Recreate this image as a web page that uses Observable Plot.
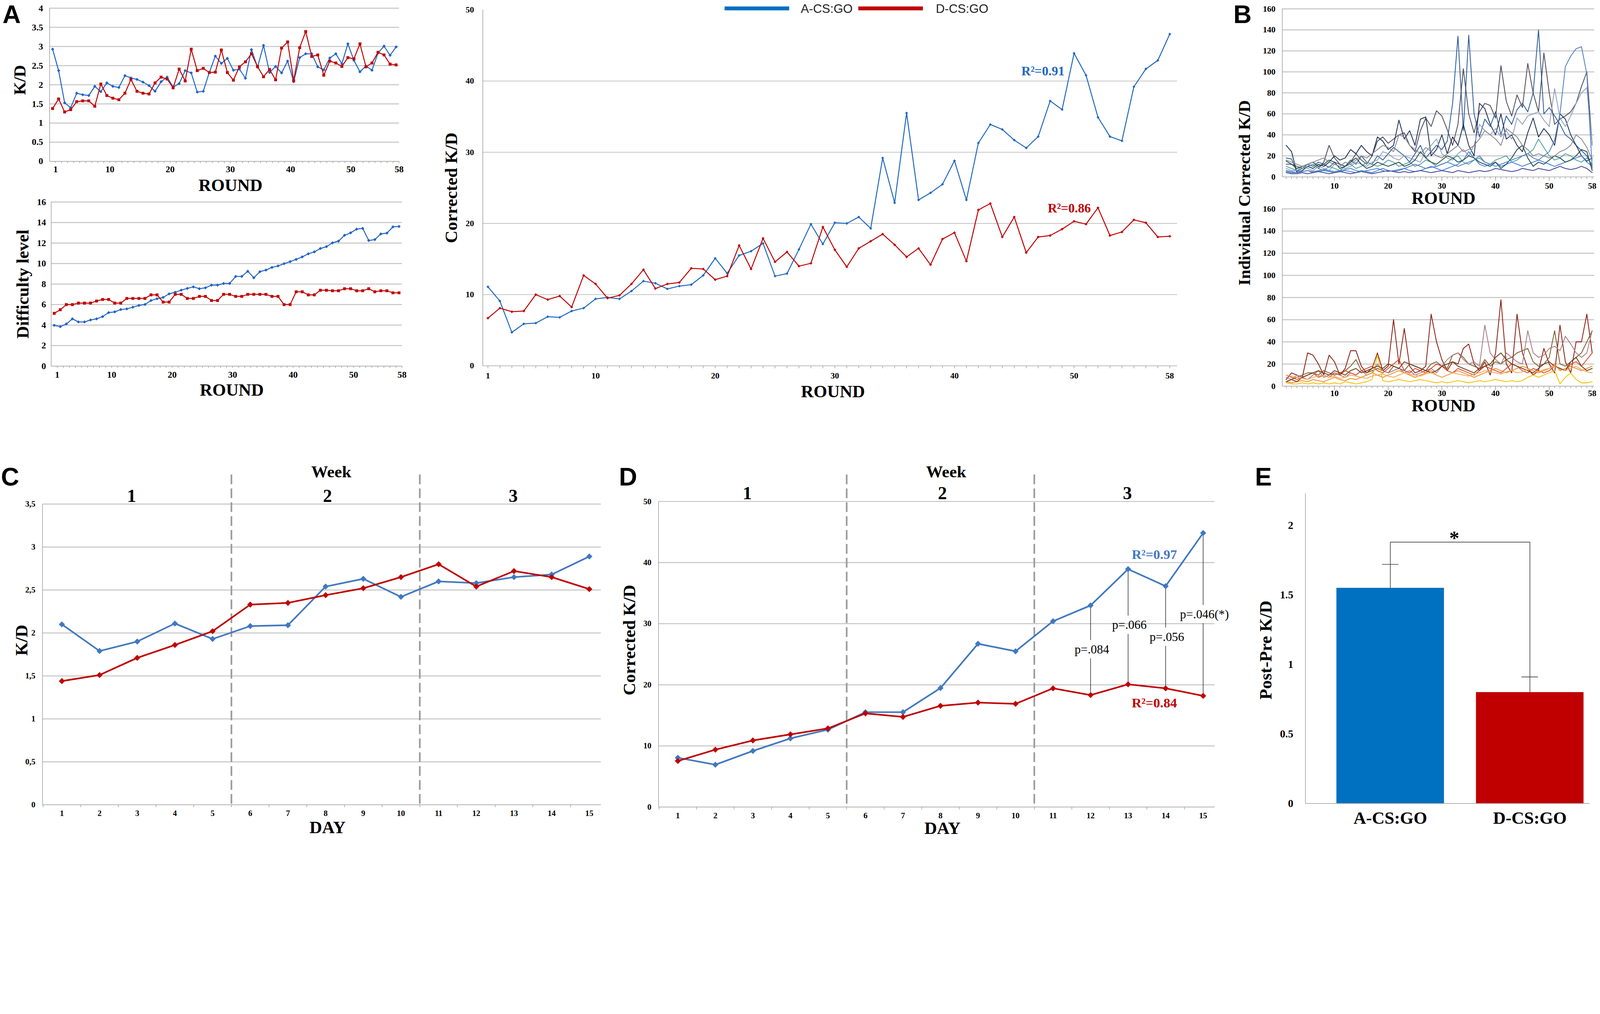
<!DOCTYPE html>
<html><head><meta charset="utf-8">
<script src="https://cdn.jsdelivr.net/npm/d3@7"></script>
<script src="https://cdn.jsdelivr.net/npm/@observablehq/plot@0.6"></script>
<style>
html,body{margin:0;padding:0;background:#fff;overflow:hidden;}
#fig{position:relative;width:4953px;height:2596px;overflow:hidden;background:#fff;transform-origin:0 0;}
.letter{position:absolute;font-family:"Liberation Sans",Arial,sans-serif;font-weight:bold;font-size:78px;line-height:0.75;color:#000;}
.lab{position:absolute;white-space:nowrap;line-height:1;}
</style></head><body><div id="fig"></div>
<script>
// ---------------- DATA ----------------
const rounds = d3.range(1, 59);
const roundTicks = [1, 10, 20, 30, 40, 50, 58];
const roundTicksB = [10, 20, 30, 40, 50, 58];
const groupNames = ["A-CS:GO", "D-CS:GO"];

// Panel A (top left): K/D per round
const kdAcs = [2.93,2.37,1.53,1.40,1.78,1.74,1.72,1.96,1.82,2.05,1.96,1.93,2.24,2.18,2.14,2.07,1.98,1.83,2.08,2.20,1.94,2.03,2.37,2.31,1.81,1.83,2.32,2.75,2.56,2.69,2.38,2.41,2.17,2.92,2.46,3.03,2.32,2.48,2.31,2.62,2.08,2.71,2.81,2.81,2.47,2.39,2.70,2.81,2.55,3.07,2.64,2.34,2.49,2.38,2.83,3.01,2.77,2.99];
const kdDcs = [1.38,1.63,1.29,1.35,1.56,1.58,1.58,1.44,2.02,1.72,1.65,1.61,1.78,2.14,1.83,1.78,1.76,2.05,2.20,2.15,1.92,2.41,2.10,2.93,2.37,2.43,2.32,2.33,2.91,2.32,2.12,2.47,2.60,2.81,2.48,2.21,2.40,2.13,2.96,3.12,2.11,2.97,3.39,2.74,2.78,2.25,2.62,2.57,2.48,2.71,2.68,3.07,2.47,2.57,2.85,2.78,2.54,2.52];
const kdTicks = [0,0.5,1,1.5,2,2.5,3,3.5,4];

// Panel A (bottom left): difficulty level per round
const diffAcs = [3.98,3.85,4.11,4.61,4.31,4.31,4.50,4.61,4.83,5.22,5.29,5.52,5.58,5.75,5.92,6.01,6.40,6.57,6.70,7.05,7.21,7.41,7.58,7.73,7.55,7.64,7.90,7.90,8.06,8.06,8.75,8.75,9.25,8.62,9.21,9.37,9.63,9.77,9.99,10.19,10.41,10.65,10.95,11.14,11.47,11.65,12.02,12.19,12.76,13.00,13.36,13.43,12.25,12.34,12.89,12.97,13.58,13.62];
const diffDcs = [5.15,5.5,6.0,6.0,6.15,6.15,6.15,6.35,6.5,6.5,6.15,6.15,6.6,6.6,6.6,6.6,6.95,6.95,6.25,6.25,7.0,7.0,6.6,6.6,6.8,6.8,6.4,6.4,7.0,7.0,6.8,6.8,7.0,7.0,7.0,7.0,6.8,6.8,6.0,6.0,7.25,7.25,6.95,6.95,7.4,7.4,7.35,7.35,7.55,7.55,7.35,7.35,7.55,7.25,7.35,7.35,7.15,7.15];
const diffTicks = [0,2,4,6,8,10,12,14,16];

// Panel A (centre): corrected K/D per round
const corrAcs = [11.1,9.1,4.7,5.9,6.0,6.9,6.8,7.7,8.1,9.4,9.6,9.4,10.5,11.9,11.6,10.8,11.2,11.4,12.7,15.1,13.0,15.5,16.1,17.2,12.6,12.95,16.35,19.9,17.1,20.1,20.0,20.9,19.3,29.2,22.9,35.5,23.3,24.3,25.5,28.8,23.3,31.3,33.9,33.2,31.7,30.6,32.2,37.2,36.0,43.9,40.8,34.9,32.2,31.6,39.2,41.7,42.9,46.6];
const corrDcs = [6.7,8.1,7.6,7.7,10.0,9.3,9.8,8.25,12.7,11.5,9.5,9.9,11.5,13.5,10.85,11.5,11.7,13.7,13.6,12.1,12.6,16.9,13.6,17.9,14.6,16.0,14.0,14.4,19.5,16.3,13.9,16.5,17.5,18.5,17.0,15.3,16.5,14.2,17.8,18.7,14.7,21.9,22.8,18.1,20.9,15.9,18.1,18.3,19.2,20.3,19.9,22.2,18.3,18.8,20.5,20.1,18.1,18.2];
const corrTicks = [0,10,20,30,40,50];
const corrR2 = [{r: 47.4, v: 41.4, label: "R²=0.91", g: 0}, {r: 49.6, v: 22.1, label: "R²=0.86", g: 1}];

// Panel B: individual corrected K/D (A-CS:GO players, top; D-CS:GO players, bottom)
const indivA = [
 [18,17,5,8,12,10,14,12,9,14,12,10,16,12,20,14,12,20,16,22,28,24,20,14,22,30,18,24,30,26,34,70,134,44,135,60,38,55,48,62,40,58,50,64,70,62,80,140,60,66,58,50,40,36,30,25,20,10],
 [12,12,10,8,10,12,8,14,30,18,12,10,14,22,16,12,20,34,38,32,36,40,42,30,24,44,56,48,63,58,45,30,50,103,60,42,62,70,68,56,106,72,58,78,66,108,80,62,118,80,50,55,58,62,70,86,100,30],
 [30,24,4,6,10,8,12,10,14,20,16,18,26,22,30,24,20,38,34,26,30,54,36,44,30,55,57,20,26,40,22,38,30,50,30,20,70,65,50,40,60,36,40,30,24,42,56,38,46,40,30,60,55,40,30,20,15,18],
 [8,6,6,10,8,6,10,8,6,12,10,8,10,14,12,10,14,16,24,22,18,16,20,18,16,14,24,30,36,22,18,16,22,26,20,30,50,44,40,46,38,44,36,56,50,58,60,62,54,48,84,56,48,58,70,80,85,30],
 [10,8,6,8,10,12,8,6,10,8,6,10,12,8,10,14,12,10,12,16,14,10,12,14,10,12,16,14,10,12,14,18,20,14,12,16,18,14,12,16,18,20,14,16,20,22,26,36,28,20,16,18,22,20,16,14,18,12],
 [5,4,4,5,6,4,5,6,5,4,5,6,5,4,6,5,4,6,8,6,5,6,8,6,5,6,8,10,8,6,8,10,12,16,24,18,12,10,12,14,10,12,14,12,10,12,14,16,14,12,10,12,14,16,18,20,14,10],
 [15,12,8,10,12,14,10,12,16,14,8,10,14,18,12,8,10,14,12,10,12,14,10,12,16,24,18,14,12,16,20,18,14,16,20,18,14,12,10,14,8,12,18,26,30,18,10,14,12,16,20,18,14,16,20,26,24,6],
 [4,3,3,4,3,4,5,4,3,4,5,4,3,4,5,4,3,4,5,6,5,4,5,4,5,6,5,4,5,6,5,4,6,5,4,5,6,5,6,8,7,6,5,6,8,7,6,8,7,6,8,10,8,7,8,10,8,4],
 [16,14,12,10,12,14,16,18,14,12,10,14,12,16,20,18,22,26,30,28,24,40,38,30,26,22,28,24,20,18,22,26,30,24,26,30,36,44,40,36,30,46,42,38,30,26,20,22,20,18,20,24,26,30,40,36,28,16],
 [6,5,4,5,6,5,6,7,6,5,6,7,8,6,5,6,7,8,6,5,6,7,8,10,12,10,8,9,10,12,14,12,10,12,14,16,20,14,12,10,12,14,16,18,20,22,18,16,20,24,35,60,105,115,122,124,98,8]
];
const indivAColors = ["#2a5b9c","#4a4a58","#1c2d52","#8e9dbb","#4f9d9d","#3b7ddd","#1f4a46","#3a3f94","#85858f","#4d7fbf"];
const indivD = [
 [6,12,10,8,30,28,20,10,28,22,10,16,32,32,18,12,16,30,14,18,60,20,52,18,12,14,18,65,40,24,14,22,20,34,38,20,14,22,10,30,78,20,12,65,30,16,10,14,34,20,12,55,22,12,40,40,65,30],
 [4,6,8,10,12,12,10,14,12,10,12,14,18,24,14,12,14,16,14,12,18,16,14,20,18,16,14,20,22,18,16,28,30,26,20,18,16,24,18,22,20,24,26,30,32,34,22,18,20,26,50,20,18,22,26,30,40,50],
 [8,6,10,8,6,10,14,8,10,12,10,8,12,10,14,10,12,20,14,12,14,16,12,14,10,12,14,16,12,18,24,28,30,24,20,22,18,55,30,24,20,30,26,22,20,50,30,26,28,34,36,32,45,38,30,26,30,50],
 [10,8,6,8,10,12,8,10,8,12,10,14,12,10,14,16,18,14,12,16,20,24,14,12,16,14,12,16,20,18,14,12,16,14,12,10,14,18,16,14,12,16,20,18,14,12,16,14,12,14,18,16,14,20,22,18,24,30],
 [4,3,4,5,4,6,5,4,6,8,6,5,7,6,8,10,12,10,8,10,12,14,12,10,8,10,12,14,10,8,10,12,14,12,10,8,10,12,14,16,14,12,14,16,18,16,14,12,14,16,20,14,16,18,16,14,16,18],
 [3,2,2,3,2,3,2,3,2,3,2,4,3,2,3,4,6,28,5,4,5,6,5,4,5,6,5,4,3,4,3,4,5,4,3,4,5,4,5,6,5,4,5,4,5,8,10,8,10,12,14,2,8,12,6,3,3,4],
 [4,6,4,8,10,12,14,12,10,14,12,10,14,16,12,14,16,18,16,20,18,16,22,20,18,16,14,12,14,18,20,22,18,16,14,12,16,18,20,26,30,24,20,18,16,14,12,16,20,22,18,16,14,22,26,18,14,16],
 [10,9,8,7,6,8,9,10,8,9,7,8,10,9,8,7,9,10,11,9,8,10,12,11,10,9,11,12,10,8,10,12,11,10,9,11,12,14,13,12,11,13,14,12,13,15,14,13,15,16,18,15,14,16,18,15,13,12]
];
const indivDColors = ["#8b1a0e","#7a5a25","#a57a80","#e0442a","#ee8a2a","#f5c000","#6e3a12","#f2a65a"];
const indivTicks = [0,20,40,60,80,100,120,140,160];

// Panels C & D: daily means
const days = d3.range(1, 16);
const dayKdAcs = [2.10,1.79,1.90,2.11,1.93,2.08,2.09,2.54,2.63,2.42,2.60,2.58,2.65,2.68,2.89];
const dayKdDcs = [1.44,1.51,1.71,1.86,2.02,2.33,2.35,2.44,2.52,2.65,2.80,2.54,2.72,2.65,2.51];
const dayKdTicks = [0,0.5,1,1.5,2,2.5,3,3.5];
const dayCorrAcs = [8.07,6.93,9.18,11.23,12.66,15.53,15.53,19.47,26.72,25.49,30.41,32.99,38.93,36.15,44.84];
const dayCorrDcs = [7.54,9.39,10.9,11.89,12.87,15.33,14.75,16.56,17.09,16.89,19.43,18.32,20.08,19.43,18.2];
const dayCorrTicks = [0,10,20,30,40,50];
const weekBreaks = [5.5, 10.5];
const weekLabels = [{d: 2.85, label: "1"}, {d: 8.05, label: "2"}, {d: 12.98, label: "3"}];
const weekTitle = [{d: 8.15, label: "Week"}];
const pLabels = [{d: 12, y: 25.8, label: "p=.084"}, {d: 13, y: 29.8, label: "p=.066"}, {d: 14, y: 27.85, label: "p=.056"}, {d: 15, y: 31.55, label: "p=.046(*)"}];
const dayR2 = [{d: 13.7, v: 41.3, label: "R²=0.97", g: 0}, {d: 13.7, v: 17.0, label: "R²=0.84", g: 1}];

// Panel E: post - pre K/D
const postPre = [1.55, 0.80];
const postPreErr = [0.17, 0.11];
const postPreTicks = [0, 0.5, 1, 1.5, 2];
const sigBracket = {y: 1.88, from: "A-CS:GO", to: "D-CS:GO", label: "*"};

// ---------------- STYLE ----------------
const BLUE_A = "#1f63c6", BLUE_M = "#2068c0", BLUE_C = "#4178c0", RED = "#c00000";
const BAR_COLORS = ["#0070c0", "#c00000"];
const GRID = "#c4c4c4", AX = "#a6a6a6";
const SERIF = "'Liberation Serif','Times New Roman',serif";
const fig = document.getElementById("fig");
const plain = d => String(d);
function baseStyle(size) {
  return {fontFamily: SERIF, fontWeight: "bold", fontSize: size + "px", color: "#000", background: "transparent", overflow: "visible"};
}
function place(el, left, top) {
  el.style.position = "absolute"; el.style.left = left + "px"; el.style.top = top + "px";
  el.style.maxWidth = "none";
  fig.appendChild(el);
}
const roundTable = vals => vals.map((v, i) => ({r: rounds[i], v}));
const dayTable = vals => vals.map((v, i) => ({d: days[i], v}));
const label = (txt, opts) => Plot.text([txt], {text: d => d, textAnchor: "middle", lineAnchor: "middle", ...opts});

// ---------------- A1: K/D ----------------
{
  const fw = 1082, fh = 474, mL = 153, mT = 25, mR = 30, mB = 111;
  const p = Plot.plot({
    width: mL + fw + mR, height: mT + fh + mB, marginLeft: mL, marginTop: mT, marginRight: mR, marginBottom: mB,
    style: baseStyle(27), x: {domain: [0, 58]}, y: {domain: [0, 4]},
    marks: [
      Plot.ruleY(kdTicks.filter(t => t > 0), {stroke: GRID, strokeWidth: 3}),
      Plot.ruleX([0], {stroke: AX, strokeWidth: 2}),
      Plot.ruleY([0], {stroke: AX, strokeWidth: 2}),
      Plot.axisX({ticks: rounds, tickSize: 6, tickFormat: () => "", stroke: AX, strokeWidth: 2, label: null}),
      Plot.axisX({ticks: roundTicks, tickSize: 0, tickPadding: 14, fontSize: 28, tickFormat: plain, label: null}),
      Plot.axisY({ticks: kdTicks, tickSize: 0, tickPadding: 20, fontSize: 28, tickFormat: plain, label: null}),
      Plot.line(roundTable(kdAcs), {x: d => d.r - 0.5, y: "v", stroke: BLUE_A, strokeWidth: 3}),
      Plot.dot(roundTable(kdAcs), {x: d => d.r - 0.5, y: "v", symbol: "diamond2", r: 4.5, fill: BLUE_A}),
      Plot.line(roundTable(kdDcs), {x: d => d.r - 0.5, y: "v", stroke: RED, strokeWidth: 3}),
      Plot.dot(roundTable(kdDcs), {x: d => d.r - 0.5, y: "v", symbol: "square", r: 5, fill: RED}),
      label("K/D", {frameAnchor: "left", dx: -91, dy: -15, rotate: -90, fontSize: 52}),
      label("ROUND", {frameAnchor: "bottom", dx: 19, dy: 74, fontSize: 54})
    ]
  });
  place(p, 0, 0);
}

// ---------------- A2: Difficulty ----------------
{
  const fw = 1086, fh = 508, mL = 158, mT = 25, mR = 30, mB = 117;
  const p = Plot.plot({
    width: mL + fw + mR, height: mT + fh + mB, marginLeft: mL, marginTop: mT, marginRight: mR, marginBottom: mB,
    style: baseStyle(27), x: {domain: [0, 58]}, y: {domain: [0, 16]},
    marks: [
      Plot.ruleY(diffTicks.filter(t => t > 0), {stroke: GRID, strokeWidth: 3}),
      Plot.ruleX([0], {stroke: AX, strokeWidth: 2}),
      Plot.ruleY([0], {stroke: AX, strokeWidth: 2}),
      Plot.axisX({ticks: rounds, tickSize: 6, tickFormat: () => "", stroke: AX, strokeWidth: 2, label: null}),
      Plot.axisX({ticks: roundTicks, tickSize: 0, tickPadding: 16, fontSize: 28, tickFormat: plain, label: null}),
      Plot.axisY({ticks: diffTicks, tickSize: 0, tickPadding: 16, fontSize: 28, tickFormat: plain, label: null}),
      Plot.line(roundTable(diffAcs), {x: d => d.r - 0.5, y: "v", stroke: BLUE_A, strokeWidth: 3}),
      Plot.dot(roundTable(diffAcs), {x: d => d.r - 0.5, y: "v", symbol: "diamond2", r: 4.5, fill: BLUE_A}),
      Plot.line(roundTable(diffDcs), {x: d => d.r - 0.5, y: "v", stroke: RED, strokeWidth: 3}),
      Plot.dot(roundTable(diffDcs), {x: d => d.r - 0.5, y: "v", symbol: "square", r: 5, fill: RED}),
      label("Difficulty level", {frameAnchor: "left", dx: -88, rotate: -90, fontSize: 54}),
      label("ROUND", {frameAnchor: "bottom", dx: 16, dy: 74, fontSize: 54})
    ]
  });
  place(p, 0, 600);
}

// ---------------- A3: Corrected K/D ----------------
{
  const fw = 2150, fh = 1102, mL = 130, mT = 30, mR = 30, mB = 120;
  const p = Plot.plot({
    width: mL + fw + mR, height: mT + fh + mB, marginLeft: mL, marginTop: mT, marginRight: mR, marginBottom: mB,
    style: baseStyle(26), x: {domain: [0.57, 58.63]}, y: {domain: [0, 50]},
    marks: [
      Plot.ruleY([10, 20, 30, 40], {stroke: GRID, strokeWidth: 2.5}),
      Plot.ruleX([0.57], {stroke: AX, strokeWidth: 2}),
      Plot.ruleY([0], {stroke: AX, strokeWidth: 2}),
      Plot.axisX({ticks: rounds, tickSize: 8, tickFormat: () => "", stroke: AX, strokeWidth: 2, label: null}),
      Plot.axisX({ticks: roundTicks, tickSize: 0, tickPadding: 21, fontSize: 26, tickFormat: plain, label: null}),
      Plot.axisY({ticks: corrTicks, tickSize: 0, tickPadding: 27, fontSize: 26, tickFormat: plain, label: null}),
      Plot.line(roundTable(corrAcs), {x: "r", y: "v", stroke: BLUE_M, strokeWidth: 3}),
      Plot.dot(roundTable(corrAcs), {x: "r", y: "v", symbol: "diamond2", r: 4, fill: BLUE_M}),
      Plot.line(roundTable(corrDcs), {x: "r", y: "v", stroke: RED, strokeWidth: 3}),
      Plot.dot(roundTable(corrDcs), {x: "r", y: "v", symbol: "diamond2", r: 4, fill: RED}),
      Plot.text(corrR2.filter(d => d.g === 0), {x: "r", y: "v", text: "label", fill: BLUE_M, fontSize: 40}),
      Plot.text(corrR2.filter(d => d.g === 1), {x: "r", y: "v", text: "label", fill: RED, fontSize: 40}),
      label("Corrected K/D", {frameAnchor: "left", dx: -97, rotate: -90, fontSize: 54}),
      label("ROUND", {frameAnchor: "bottom", dx: 9, dy: 80, fontSize: 54})
    ]
  });
  place(p, 1494 - 130, 0);
}

// legend for A3 and the shared label of panel B
{
  const mk = (html, css) => { const d = document.createElement("div"); d.className = "lab"; d.innerHTML = html; Object.assign(d.style, css); fig.appendChild(d); };
  mk("", {left: "2243px", top: "20px", width: "200px", height: "12px", background: BAR_COLORS[0]});
  mk("", {left: "2657px", top: "20px", width: "200px", height: "12px", background: BAR_COLORS[1]});
  mk(groupNames[0], {left: "2479px", top: "8px", fontFamily: "'Liberation Sans',Arial,sans-serif", fontSize: "38px", color: "#222"});
  mk(groupNames[1], {left: "2897px", top: "8px", fontFamily: "'Liberation Sans',Arial,sans-serif", fontSize: "38px", color: "#222"});
  mk("Individual Corrected K/D", {left: "3852px", top: "597px", transform: "translate(-50%,-50%) rotate(-90deg)", fontFamily: SERIF, fontWeight: "bold", fontSize: "52px", color: "#000"});
}

// ---------------- B: individual plots ----------------
function indivPlot(series, colors, frameTop, frameH, tickPad, roundDy) {
  const fw = 966, mL = 100, mT = 27, mR = 17, mB = 110;
  const marks = [
    Plot.ruleY(indivTicks.filter(t => t > 0), {stroke: GRID, strokeWidth: 3}),
    Plot.ruleX([0.28], {stroke: AX, strokeWidth: 2}),
    Plot.ruleY([0], {stroke: AX, strokeWidth: 2}),
    Plot.axisX({ticks: rounds, tickSize: 7, tickFormat: () => "", stroke: AX, strokeWidth: 2, label: null}),
    Plot.axisX({ticks: [10, 20, 30, 40, 50], tickSize: 13, tickFormat: () => "", stroke: AX, strokeWidth: 2, label: null}),
    Plot.axisX({ticks: roundTicksB, tickSize: 0, tickPadding: tickPad, fontSize: 26, tickFormat: plain, label: null}),
    Plot.axisY({ticks: indivTicks, tickSize: 0, tickPadding: 21, fontSize: 26, tickFormat: plain, label: null}),
    ...series.map((s, k) => Plot.line(roundTable(s), {x: "r", y: "v", stroke: colors[k], strokeWidth: 2.5})),
    label("ROUND", {frameAnchor: "bottom", dx: 16, dy: roundDy, fontSize: 54})
  ];
  const p = Plot.plot({
    width: mL + fw + mR, height: mT + frameH + mB, marginLeft: mL, marginTop: mT, marginRight: mR, marginBottom: mB,
    style: baseStyle(26), x: {domain: [0.28, 58.4]}, y: {domain: [0, 160]}, marks
  });
  place(p, 3969 - mL, frameTop - mT);
}
indivPlot(indivA, indivAColors, 27, 520, 18, 67);
indivPlot(indivD, indivDColors, 646, 549, 12, 61);

// ---------------- C & D: daily plots ----------------
function dayPlot(opts) {
  const {left, frameTop, fw, fh, yDomain, yTicks, yFmt, A, D, yLabel, ylDx, extra, dashTop, weekDy, numDy, dayDy} = opts;
  const mL = 131, mT = 160, mR = 20, mB = 98;
  const xd = [0.485, 15.31];
  const p = Plot.plot({
    width: mL + fw + mR, height: mT + fh + mB, marginLeft: mL, marginTop: mT, marginRight: mR, marginBottom: mB,
    style: baseStyle(24), x: {domain: xd}, y: {domain: yDomain},
    marks: [
      Plot.ruleY(yTicks.filter(t => t > 0), {stroke: GRID, strokeWidth: 3}),
      Plot.ruleX([xd[0]], {stroke: AX, strokeWidth: 2}),
      Plot.ruleY([0], {stroke: AX, strokeWidth: 2}),
      Plot.ruleX(weekBreaks, {stroke: "#9a9a9a", strokeWidth: 5, strokeDasharray: "30,13", insetTop: -dashTop}),
      Plot.axisX({ticks: d3.range(0.5, 15.4, 1).filter(t => t >= xd[0] && t <= xd[1]), tickSize: 8, tickFormat: () => "", stroke: AX, strokeWidth: 2, label: null}),
      Plot.axisX({ticks: days, tickSize: 0, tickPadding: 17, fontSize: 25, tickFormat: plain, label: null}),
      Plot.axisY({ticks: yTicks, tickSize: 0, tickPadding: 22, fontSize: 25, tickFormat: yFmt, label: null}),
      ...(extra.before || []),
      Plot.line(dayTable(A), {x: "d", y: "v", stroke: BLUE_C, strokeWidth: 5}),
      Plot.dot(dayTable(A), {x: "d", y: "v", symbol: "diamond2", r: 8.5, fill: BLUE_C}),
      Plot.line(dayTable(D), {x: "d", y: "v", stroke: RED, strokeWidth: 5}),
      Plot.dot(dayTable(D), {x: "d", y: "v", symbol: "diamond2", r: 8.5, fill: RED}),
      ...(extra.after || []),
      Plot.text(weekLabels, {x: "d", text: "label", frameAnchor: "top", lineAnchor: "middle", dy: numDy, fontSize: 56}),
      Plot.text(weekTitle, {x: "d", text: "label", frameAnchor: "top", lineAnchor: "middle", dy: weekDy, fontSize: 52}),
      label(yLabel, {frameAnchor: "left", dx: ylDx, dy: -44, rotate: -90, fontSize: 54}),
      label("DAY", {frameAnchor: "bottom", dx: 18, dy: dayDy, fontSize: 54})
    ]
  });
  place(p, left - mL, frameTop - mT);
}
dayPlot({left: 131, frameTop: 1560, fw: 1729, fh: 931, yDomain: [0, 3.5], yTicks: dayKdTicks,
  yFmt: d => String(d).replace(".", ","), A: dayKdAcs, D: dayKdDcs, yLabel: "K/D", ylDx: -64, extra: {},
  dashTop: 91, weekDy: -99, numDy: -25, dayDy: 70});

const pGap = 1.5;
const pSegs = pLabels.flatMap(p => {
  const i = days.indexOf(p.d);
  return [{d: p.d, y1: dayCorrAcs[i], y2: p.y + pGap}, {d: p.d, y1: p.y - pGap, y2: dayCorrDcs[i]}];
});
dayPlot({left: 2038, frameTop: 1552, fw: 1722, fh: 946, yDomain: [0, 50], yTicks: dayCorrTicks,
  yFmt: plain, A: dayCorrAcs, D: dayCorrDcs, yLabel: "Corrected K/D", ylDx: -89, dashTop: 83, weekDy: -91, numDy: -25, dayDy: 66,
  extra: {
    before: [Plot.ruleX(pSegs, {x: "d", y1: "y1", y2: "y2", stroke: "#000", strokeWidth: 1.5})],
    after: [
      Plot.text(pLabels, {x: "d", y: "y", text: "label", fontWeight: "normal", fontSize: 38, dx: 4}),
      Plot.text(dayR2.filter(d => d.g === 0), {x: "d", y: "v", text: "label", fill: BLUE_C, fontSize: 42}),
      Plot.text(dayR2.filter(d => d.g === 1), {x: "d", y: "v", text: "label", fill: RED, fontSize: 42})
    ]
  }});

// ---------------- E: bars ----------------
{
  const fw = 881, fh = 960, mL = 160, mT = 127, mR = 32, mB = 109;
  const barData = groupNames.map((g, i) => ({g, v: postPre[i], e: postPreErr[i], top: postPre[i] + postPreErr[i]}));
  const p = Plot.plot({
    width: mL + fw + mR, height: mT + fh + mB, marginLeft: mL, marginTop: mT, marginRight: mR, marginBottom: mB,
    style: baseStyle(33),
    x: {type: "band", domain: groupNames, paddingInner: 0.229, paddingOuter: 0.134, align: 0.84},
    y: {domain: [0, 2.23]},
    marks: [
      ...barData.map((d, i) => Plot.barY([d], {x: "g", y: "v", fill: BAR_COLORS[i]})),
      Plot.rect([0], {insetRight: fw - 2, fill: AX}),
      Plot.ruleY([0], {stroke: AX, strokeWidth: 2}),
      Plot.ruleX(barData, {x: "g", y1: "v", y2: "top", stroke: "#404040", strokeWidth: 2}),
      Plot.tickY(barData, {x: "g", y: "top", stroke: "#404040", strokeWidth: 2, insetLeft: 141, insetRight: 141}),
      Plot.ruleX(barData, {x: "g", y1: "top", y2: () => sigBracket.y, stroke: "#404040", strokeWidth: 2}),
      Plot.link([sigBracket], {x1: "from", x2: "to", y1: "y", y2: "y", stroke: "#404040", strokeWidth: 2}),
      Plot.text([sigBracket], {x: "from", y: "y", text: "label", dx: 198, dy: -12, fontSize: 62}),
      Plot.axisX({tickSize: 0, tickPadding: 25, fontSize: 54, label: null}),
      Plot.axisY({ticks: postPreTicks, tickSize: 0, tickPadding: 37, fontSize: 33, tickFormat: plain, label: null}),
      label("Post-Pre K/D", {frameAnchor: "left", dx: -122, dy: 5, rotate: -90, fontSize: 54})
    ]
  });
  place(p, 4040 - mL, 1527 - mT);
}

// ---------------- panel letters ----------------
[["A", 8, 15], ["B", 3818, 15], ["C", 3, 1447], ["D", 1916, 1447], ["E", 3885, 1447]].forEach(([t, x, y]) => {
  const d = document.createElement("div"); d.className = "letter"; d.textContent = t;
  d.style.left = x + "px"; d.style.top = y + "px"; fig.appendChild(d);
});

// fit the 4953 x 2596 figure into the actual viewport
function fit() {
  const vw = window.innerWidth || document.documentElement.clientWidth || 4953;
  const s = vw / 4953;
  fig.style.transform = Math.abs(s - 1) > 0.001 ? `scale(${s})` : "";
}
fit();
window.addEventListener("resize", fit);
</script></body></html>
